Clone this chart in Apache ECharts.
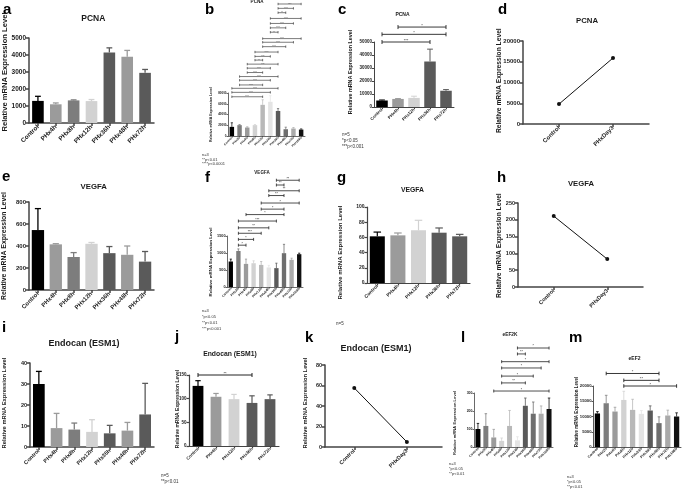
<!DOCTYPE html>
<html><head><meta charset="utf-8">
<script src="https://cdn.jsdelivr.net/npm/echarts@6/dist/echarts.min.js"></script>
<style>html,body{margin:0;padding:0;background:#fff}#c{width:685px;height:492px}</style>
</head><body><div id="c"></div>
<script>
// ---------------- data ----------------
const cats7 = ['Control','PHx4h','PHx8h','PHx12h','PHx36h','PHx48h','PHx72h'];
const cats5 = ['Control','PHx4h','PHx12h','PHx36h','PHx72h'];
const cats10 = ['Control','PHx2h','PHx4h','PHx8h','PHx12h','PHx24h','PHx36h','PHx48h','PHx72h','PHx168h'];
const cats2 = ['Control','PHxDay3'];

// a - PCNA
const pcnaA = [1300,1100,1330,1290,4150,3900,2950];
const pcnaASd = [270,80,30,90,270,370,200];
const ticksA = [0,1000,2000,3000,4000,5000];
// b - PCNA
const pcnaB = [17000,20200,15750,20200,58000,63600,46600,12600,13900,12000];
const pcnaBSd = [7600,1200,1250,1200,9400,11400,4400,3800,1850,1200];
const ticksB = [0,20000,40000,60000,80000];
const sigB = [[0,4,73000,'****'],[0,5,81200,'****'],[0,6,88700,'****'],[1,4,95000,'****'],[1,5,103700,'****'],[1,6,110600,'****'],
  [2,4,118100,'****'],[2,5,126200,'****'],[2,6,133700,'****'],[3,4,141200,'**'],[3,5,148100,'****'],[3,6,156200,'****'],
  [4,7,166200,'****'],[4,8,174400,'****'],[4,9,181200,'****'],[5,6,193100,'**'],[5,7,201200,'****'],[5,8,209400,'****'],
  [5,9,218700,'****'],[6,7,229400,'**'],[6,8,237500,'****'],[6,9,245600,'****']];
// c - PCNA
const pcnaC = [5000,6200,7000,35000,12500];
const pcnaCSd = [400,300,1300,9500,900];
const ticksC = [0,10000,20000,30000,40000,50000];
const sigC = [[0,3,50000,'***'],[0,4,55900,'*'],[1,4,61500,'*']];
// d - PCNA
const pcnaD = [4800,15900];
const ticksD = [0,5000,10000,15000,20000];
// e - VEGFA
const vegfaE = [545,415,300,420,335,320,258];
const vegfaESd = [195,6,40,12,60,80,92];
const ticksE = [0,200,400,600,800];
// f - VEGFA
const vegfaF = [750,1060,680,700,650,575,555,995,800,965];
const vegfaFSd = [70,60,140,70,100,60,145,260,47,30];
const ticksF = [0,500,1000,1500];
const sigF = [[1,2,1230,'*'],[1,3,1400,'*'],[1,4,1580,'***'],[1,5,1740,'**'],[1,6,1940,'***'],[2,7,2130,'*'],
  [4,7,2290,'*'],[4,9,2470,'*'],[5,7,2690,'**'],[5,9,2830,'**'],[6,7,3000,'**'],[6,9,3140,'**']];
// g - VEGFA
const vegfaG = [61.4,62.7,69.3,66.2,61.4];
const vegfaGSd = [5.6,3.1,13.2,6.2,2.6];
const ticksG = [0,20,40,60,80,100];
// h - VEGFA
const vegfaH = [211,83];
const ticksH = [0,50,100,150,200,250];
// i - Endocan
const esm1I = [30,9,8.3,7.2,6.5,7.8,15.5];
const esm1ISd = [6,7,3.1,5.8,3.8,3.9,14.8];
const ticksI = [0,10,20,30,40];
// j - Endocan
const esm1J = [127,104,99,91,99];
const esm1JSd = [11,7,10,15,9];
const ticksJ = [0,50,100,150];
const sigJ = [[0,3,150,'**']];
// k - Endocan
const esm1K = [57.6,4.9];
const ticksK = [0,20,40,60,80];
// l - eEF2K
const eef2kL = [100,117,53,34,117,37,229,185,185,211];
const eef2kLSd = [31,68,45,16,86,20,43,65,43,61];
const ticksL = [0,100,200,300];
const sigL = [[2,9,311,'*'],[3,6,356,'**'],[3,7,394,'*'],[3,8,439,'*'],[3,9,474,'*'],[5,6,517,'**'],[5,9,550,'*']];
// m - eEF2
const eef2M = [11000,14350,11630,15430,12170,10870,11960,7830,10330,10000];
const eef2MSd = [600,2600,1400,2830,3480,1090,1520,2060,1740,1200];
const ticksM = [0,5000,10000,15000,20000];
const sigM = [[3,9,20000,'*'],[3,7,21850,'**'],[1,7,24100,'*']];

// ---------------- styles ----------------
const FONT = '"Liberation Sans", Arial, sans-serif';
const AX = '#444';
const TX = '#222';
const colors7 = ['#000000','#9b9b9b','#7d7d7d','#d2d2d2','#5a5a5a','#9b9b9b','#5a5a5a'];
const colors5 = ['#000000','#9b9b9b','#d2d2d2','#5a5a5a','#5a5a5a'];
const colors10 = ['#000000','#7d7d7d','#9b9b9b','#d2d2d2','#b8b8b8','#e4e4e4','#5a5a5a','#6e6e6e','#aaaaaa','#111111'];

const option = {animation:false, backgroundColor:'#ffffff', grid:[], xAxis:[], yAxis:[], series:[], graphic:{elements:[]}};

function yAxisCfg(gi, ticks, c) {
  return {type:'value', gridIndex:gi, min:ticks[0], max:ticks[ticks.length-1], interval:ticks[1]-ticks[0],
    splitLine:{show:false},
    axisLine:{show:true, onZero:false, lineStyle:{color:AX, width:c.lw}},
    axisTick:{show:true, length:c.tl, lineStyle:{color:AX, width:c.lw}},
    axisLabel:{fontSize:c.yfs, fontWeight:'bold', fontFamily:FONT, color:TX, margin:c.ym, formatter:v=>String(v)}};
}
function addGrid(g) {
  const gi = option.grid.length;
  option.grid.push({left:g[0], top:g[1], width:g[2], height:g[3], containLabel:false, outerBoundsMode:'none'});
  return gi;
}
function errItem(colors, ratio, lw) {
  return function (params, api) {
    const i = params.dataIndex;
    const b = api.coord([api.value(0), api.value(1)]);
    const t = api.coord([api.value(0), api.value(2)]);
    const half = api.size([1, 0])[0] * ratio * 0.25;
    const st = {stroke: colors[i], lineWidth: lw, fill: null};
    return {type:'group', children:[
      {type:'line', shape:{x1:b[0], y1:b[1], x2:t[0], y2:t[1]}, style:st},
      {type:'line', shape:{x1:t[0]-half, y1:t[1], x2:t[0]+half, y2:t[1]}, style:st}
    ]};
  };
}
function sigItem(list, fs, lw, cap) {
  return function (params, api) {
    const s = list[params.dataIndex];
    const p1 = api.coord([s[0], s[2]]);
    const p2 = api.coord([s[1], s[2]]);
    const st = {stroke:'#222', lineWidth:lw, fill:null};
    return {type:'group', children:[
      {type:'line', shape:{x1:p1[0], y1:p1[1], x2:p2[0], y2:p2[1]}, style:st},
      {type:'line', shape:{x1:p1[0], y1:p1[1]-cap, x2:p1[0], y2:p1[1]+cap}, style:st},
      {type:'line', shape:{x1:p2[0], y1:p2[1]-cap, x2:p2[0], y2:p2[1]+cap}, style:st},
      {type:'text', x:(p1[0]+p2[0])/2, y:p1[1]+fs*0.15, style:{text:s[3], fontSize:fs, fontFamily:FONT, fill:'#222', align:'center', verticalAlign:'bottom'}}
    ]};
  };
}
function barPanel(c) {
  const gi = addGrid(c.g);
  option.xAxis.push({type:'category', gridIndex:gi, data:c.cats, boundaryGap:true,
    axisLine:{show:true, onZero:false, lineStyle:{color:AX, width:c.lw}},
    axisTick:{show:true, alignWithLabel:true, length:c.tl, lineStyle:{color:AX, width:c.lw}},
    axisLabel:{interval:0, rotate:45, fontSize:c.xfs, fontWeight:'bold', fontFamily:FONT, color:TX, margin:c.xm}});
  option.yAxis.push(yAxisCfg(gi, c.ticks, c));
  option.series.push({type:'bar', xAxisIndex:gi, yAxisIndex:gi, barWidth:(c.bw*100)+'%',
    data:c.vals.map((v,i)=>({value:v, itemStyle:{color:c.colors[i]}}))});
  option.series.push({type:'custom', xAxisIndex:gi, yAxisIndex:gi, clip:false, z:3,
    encode:{x:0, y:[1,2]}, renderItem:errItem(c.colors, c.bw, c.elw),
    data:c.vals.map((v,i)=>[i, v, v + c.sds[i]])});
  if (c.sig) {
    option.series.push({type:'custom', xAxisIndex:gi, yAxisIndex:gi, clip:false, z:4,
      encode:{x:0, y:1}, renderItem:sigItem(c.sig, c.sfs, c.slw, c.cap),
      data:c.sig.map(s=>[s[0], s[2]])});
  }
}
function linePanel(c) {
  const gi = addGrid(c.g);
  option.xAxis.push({type:'value', gridIndex:gi, min:c.xr[0], max:c.xr[1], splitLine:{show:false},
    axisLine:{show:true, onZero:false, lineStyle:{color:AX, width:c.lw}},
    axisTick:{show:true, length:c.tl, customValues:[0,1], lineStyle:{color:AX, width:c.lw}},
    axisLabel:{customValues:[0,1], rotate:45, fontSize:c.xfs, fontWeight:'bold', fontFamily:FONT, color:TX, margin:c.xm,
      formatter:v=>c.cats[Math.round(v)]}});
  option.yAxis.push(yAxisCfg(gi, c.ticks, c));
  option.series.push({type:'line', xAxisIndex:gi, yAxisIndex:gi, symbol:'circle', symbolSize:4,
    itemStyle:{color:'#111'}, lineStyle:{color:'#111', width:1},
    data:c.vals.map((v,i)=>[i, v])});
}

// ---------------- panels ----------------
barPanel({g:[29,38,125,85], cats:cats7, vals:pcnaA, sds:pcnaASd, ticks:ticksA, colors:colors7, bw:0.65, lw:1.5, tl:3, xfs:6.3, yfs:6.5, xm:3, ym:3, elw:1.3});
barPanel({g:[228,93,77,43], cats:cats10, vals:pcnaB, sds:pcnaBSd, ticks:ticksB, colors:colors10, bw:0.58, lw:0.8, tl:1.5, xfs:3, yfs:3, xm:1.5, ym:1.5, elw:0.7,
  sig:sigB, sfs:2.5, slw:0.6, cap:1.2});
barPanel({g:[374,42,80,65], cats:cats5, vals:pcnaC, sds:pcnaCSd, ticks:ticksC, colors:colors5, bw:0.72, lw:1, tl:2, xfs:4.3, yfs:4.5, xm:2, ym:2, elw:1,
  sig:sigC, sfs:4, slw:0.9, cap:2});
linePanel({g:[523,41,126,83], cats:cats2, vals:pcnaD, ticks:ticksD, xr:[-0.667,1.667], lw:1.5, tl:3, xfs:6, yfs:6, xm:3, ym:3});
barPanel({g:[29,202,125,88], cats:cats7, vals:vegfaE, sds:vegfaESd, ticks:ticksE, colors:colors7, bw:0.69, lw:1.5, tl:3, xfs:6, yfs:6, xm:3, ym:3, elw:1.3});
barPanel({g:[227,236,76,51], cats:cats10, vals:vegfaF, sds:vegfaFSd, ticks:ticksF, colors:colors10, bw:0.57, lw:0.8, tl:1.5, xfs:3.3, yfs:3.8, xm:1.5, ym:1.5, elw:0.8,
  sig:sigF, sfs:3.5, slw:0.8, cap:1.5});
barPanel({g:[367,207,103,76], cats:cats5, vals:vegfaG, sds:vegfaGSd, ticks:ticksG, colors:colors5, bw:0.73, lw:1.2, tl:2.5, xfs:4.8, yfs:5, xm:2.5, ym:2.5, elw:1.2});
linePanel({g:[518,203,125,84], cats:cats2, vals:vegfaH, ticks:ticksH, xr:[-0.667,1.667], lw:1.5, tl:3, xfs:5.5, yfs:5.5, xm:3, ym:3});
barPanel({g:[30,363,124,84], cats:cats7, vals:esm1I, sds:esm1ISd, ticks:ticksI, colors:colors7, bw:0.66, lw:1.5, tl:3, xfs:5.5, yfs:5.5, xm:3, ym:3, elw:1.3});
barPanel({g:[189,375,90,71], cats:cats5, vals:esm1J, sds:esm1JSd, ticks:ticksJ, colors:colors5, bw:0.6, lw:1.2, tl:2.5, xfs:4.3, yfs:4.5, xm:2.5, ym:2.5, elw:1.2,
  sig:sigJ, sfs:4, slw:1, cap:2});
linePanel({g:[325,365,117,82], cats:cats2, vals:esm1K, ticks:ticksK, xr:[-0.556,1.667], lw:1.5, tl:3, xfs:5.5, yfs:5.5, xm:3, ym:3});
barPanel({g:[474,393,79,54], cats:cats10, vals:eef2kL, sds:eef2kLSd, ticks:ticksL, colors:colors10, bw:0.63, lw:0.8, tl:1.5, xfs:3.3, yfs:3.5, xm:1.5, ym:1.5, elw:0.8,
  sig:sigL, sfs:3.5, slw:0.8, cap:1.5});
barPanel({g:[593,386,88,61], cats:cats10, vals:eef2M, sds:eef2MSd, ticks:ticksM, colors:colors10, bw:0.6, lw:0.9, tl:1.5, xfs:3.6, yfs:4.2, xm:1.5, ym:1.5, elw:0.8,
  sig:sigM, sfs:4, slw:0.9, cap:1.8});

// ---------------- texts ----------------
function T(text, x, y, fs, o) {
  o = o || {};
  option.graphic.elements.push({type:'text', x:x, y:y, rotation:o.rot || 0, silent:true,
    style:{text:text, fontSize:fs, fontWeight:o.bold ? 'bold' : 'normal', fontFamily:FONT, fill:o.fill || '#1a1a1a',
      align:o.align || 'center', verticalAlign:'middle'}});
}
const YN = 'Relative mRNA Expression Level';
// panel letters
[['a',3,9.75],['b',205,9.75],['c',338,9.75],['d',498,9.75],['e',2,176.75],['f',205,177.75],['g',337,177.75],['h',497,177.75],
 ['i',2,327.75],['j',175,336.75],['k',305,337.75],['l',461,337.75],['m',569,337.75]]
 .forEach(p => T(p[0], p[1], p[2], 15, {bold:true, align:'left', fill:'#000'}));
// titles
T('PCNA', 93.3, 18.5, 8.5, {bold:true});
T('PCNA', 257, 2, 4.5, {bold:true});
T('PCNA', 402.5, 14.7, 5, {bold:true});
T('PCNA', 587, 20.5, 7.8, {bold:true});
T('VEGFA', 93.7, 187, 7.8, {bold:true});
T('VEGFA', 262, 173, 4.5, {bold:true});
T('VEGFA', 412.5, 190.5, 6.8, {bold:true});
T('VEGFA', 581, 183.5, 7.7, {bold:true});
T('Endocan (ESM1)', 84, 344, 9, {bold:true});
T('Endocan (ESM1)', 230, 354.5, 6.8, {bold:true});
T('Endocan (ESM1)', 376, 348.5, 9, {bold:true});
T('eEF2K', 510, 335, 4.8, {bold:true});
T('eEF2', 634.5, 358.5, 5, {bold:true});
// y-axis names
const R = Math.PI / 2;
T(YN, 4.5, 72, 7.6, {bold:true, rot:R});
T(YN, 211.5, 114.5, 3.5, {bold:true, rot:R});
T(YN, 351, 72, 5.4, {bold:true, rot:R});
T(YN, 499.5, 80.7, 6.7, {bold:true, rot:R});
T(YN, 4.5, 246, 6.9, {bold:true, rot:R});
T(YN, 211, 262, 4.4, {bold:true, rot:R});
T(YN, 340, 252.5, 6, {bold:true, rot:R});
T(YN, 499.5, 245.7, 6.7, {bold:true, rot:R});
T(YN, 4.5, 403, 5.8, {bold:true, rot:R});
T(YN, 177.5, 409, 5, {bold:true, rot:R});
T(YN, 305, 403, 5.8, {bold:true, rot:R});
T(YN, 455, 423, 4.1, {bold:true, rot:R});
T(YN, 576.5, 412, 4.5, {bold:true, rot:R});
// notes
const L = {align:'left', fill:'#333'};
T('n=3', 202, 155, 4, L); T('**p<0.01', 202, 159.5, 4, L); T('****p<0.0001', 202, 164, 4, L);
T('n=5', 342, 135, 4.5, L); T('*p<0.05', 342, 141, 4.5, L); T('***p<0.001', 342, 147, 4.5, L);
T('n=3', 202, 310.5, 4, L); T('*p<0.05', 202, 316.5, 4, L); T('**p<0.01', 202, 322.5, 4, L); T('***p<0.001', 202, 328.5, 4, L);
T('n=5', 336, 323.5, 4.5, L);
T('n=5', 161, 476, 4.5, L); T('**p<0.01', 161, 482, 4.5, L);
T('n=3', 449, 463.5, 4, L); T('*p<0.05', 449, 468.5, 4, L); T('**p<0.01', 449, 474, 4, L);
T('n=3', 567, 476.5, 4, L); T('*p<0.05', 567, 481.5, 4, L); T('**p<0.01', 567, 486.5, 4, L);

const chart = echarts.init(document.getElementById('c'), null, {renderer:'canvas', devicePixelRatio:1});
chart.setOption(option);
</script></body></html>
